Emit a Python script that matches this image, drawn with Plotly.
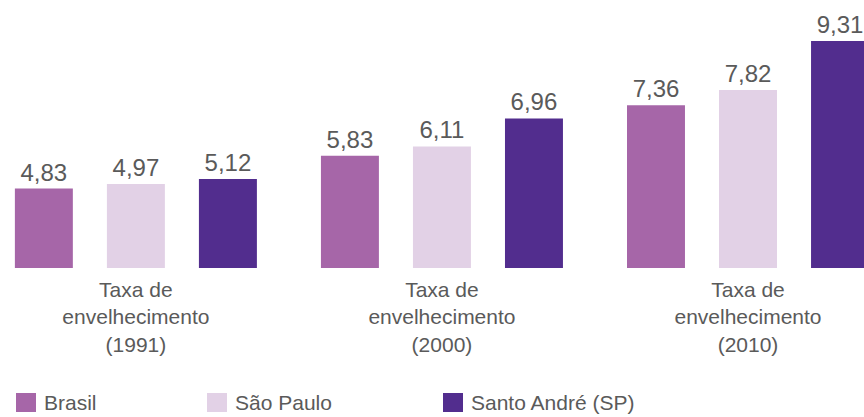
import plotly.graph_objects as go

# ---- data ----
categories = ["Taxa de<br>envelhecimento<br>(1991)",
              "Taxa de<br>envelhecimento<br>(2000)",
              "Taxa de<br>envelhecimento<br>(2010)"]
series_names = ["Brasil", "São Paulo", "Santo André (SP)"]
brasil = [4.83, 5.83, 7.36]
sao_paulo = [4.97, 6.11, 7.82]
santo_andre = [5.12, 6.96, 9.31]

# ---- styles ----
colors = ["#A666A8", "#E2D1E6", "#522D8E"]
text_color = "#5a5a5a"
font_family = "Liberation Sans, Arial, sans-serif"
W, H = 864, 417
plot_bottom_px = 268  # plot area spans y from 0 to this (pixels from top)

fig = go.Figure()
for name, vals, col in zip(series_names, [brasil, sao_paulo, santo_andre], colors):
    fig.add_trace(go.Bar(
        name=name, x=categories, y=vals, marker_color=col,
        marker_line_width=0,
        text=[f"{v:.2f}".replace(".", ",") for v in vals],
        textposition="outside", cliponaxis=False,
        textfont=dict(size=24, color=text_color, family=font_family),
        showlegend=False,
    ))

# manual legend (larger swatches like the reference)
legend_x_px = [16, 207, 443]
sw_top, sw_bot = 393, 412


def py(pix):
    return (plot_bottom_px - pix) / plot_bottom_px


for name, col, x0 in zip(series_names, colors, legend_x_px):
    fig.add_shape(type="rect", xref="paper", yref="paper",
                  x0=x0 / W, x1=(x0 + 20) / W, y0=py(sw_bot), y1=py(sw_top),
                  fillcolor=col, line_width=0)
    fig.add_annotation(xref="paper", yref="paper", x=(x0 + 26) / W,
                       y=py((sw_top + sw_bot) / 2), text=name, showarrow=False,
                       xanchor="left", yanchor="middle",
                       font=dict(size=21, color=text_color, family=font_family))

fig.update_layout(
    width=W, height=H,
    margin=dict(l=0, r=0, t=0, b=H - plot_bottom_px),
    plot_bgcolor="white", paper_bgcolor="white",
    barmode="group", bargap=0.098, bargroupgap=0.37,
    xaxis=dict(type="category", range=[-0.444, 2.379], showgrid=False,
               showline=False, zeroline=False, ticks="", ticklabelstandoff=7,
               tickfont=dict(size=21, color=text_color, family=font_family)),
    yaxis=dict(range=[2.42, 2.42 + plot_bottom_px / 32.95], visible=False,
               showgrid=False, zeroline=False),
)

fig.write_html("out.html", config={"displayModeBar": False},
               post_script="document.body.style.margin='0';document.body.style.overflow='hidden';")
